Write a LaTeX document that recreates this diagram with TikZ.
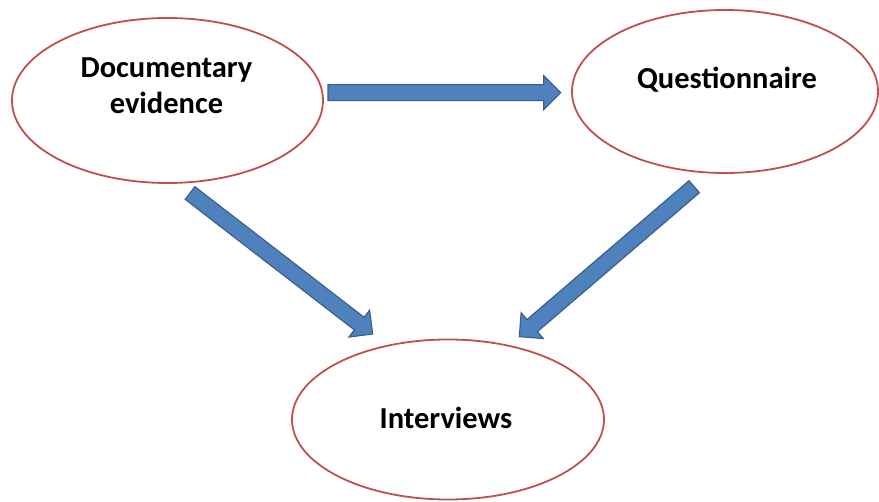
\documentclass[tikz,border=0pt]{standalone}
\usepackage{fontspec}
\setmainfont{Carlito}
\usetikzlibrary{shapes.geometric,calc}

\definecolor{ovalred}{HTML}{C0504D}
\definecolor{arrowfill}{HTML}{4F81BD}
\definecolor{arrowline}{HTML}{385D8A}

% Block arrow from tail #1 to tip #2; #3 prefixes helper coordinates
\newcommand\blockarrow[3]{%
  \coordinate (#3base) at ($(#2)!17pt!(#1)$);
  \draw[blockarrow]
    ($(#1)!8pt!90:(#2)$) -- ($(#3base)!8pt!90:(#2)$) --
    ($(#3base)!17pt!90:(#2)$) -- (#2) --
    ($(#3base)!17pt!-90:(#2)$) -- ($(#3base)!8pt!-90:(#2)$) --
    ($(#1)!8pt!-90:(#2)$) -- cycle;
}

\tikzset{
  oval/.style={ellipse, draw=ovalred, line width=1.8pt, fill=white, inner sep=0pt},
  label text/.style={font=\bfseries\fontsize{30.5}{36}\selectfont, align=center, inner sep=0pt},
  blockarrow/.style={fill=arrowfill, draw=arrowline, line width=1.1pt, line join=miter}
}

\begin{document}
\begin{tikzpicture}[x=1pt, y=-1pt]
  \useasboundingbox[fill=white] (0,0) rectangle (879,502);

  % the three stages
  \node[oval, minimum width=311pt, minimum height=165pt] (doc) at (167.5,100.5) {};
  \node[oval, minimum width=306pt, minimum height=163pt] (quest) at (725,91.5) {};
  \node[oval, minimum width=312pt, minimum height=160pt] (inter) at (448,419.5) {};

  \node[label text, anchor=base] (doct1) at (166.5,77.3) {Documentary};
  \node[label text, anchor=base] (doct2) at (166.5,114) {evidence};
  \node[label text, anchor=base] (questt) at (727,89) {Questionnaire};
  \node[label text, anchor=base] (intert) at (446,429) {Interviews};

  % arrow ends
  \coordinate (a1s) at (328,92.7);
  \coordinate (a1e) at (560.7,92.7);
  \coordinate (a2s) at (190,193);
  \coordinate (a2e) at (372.7,334);
  \coordinate (a3s) at (694.2,186.7);
  \coordinate (a3e) at (519.3,336.7);

  \blockarrow{a1s}{a1e}{h}
  \blockarrow{a2s}{a2e}{l}
  \blockarrow{a3s}{a3e}{r}
\end{tikzpicture}
\end{document}
